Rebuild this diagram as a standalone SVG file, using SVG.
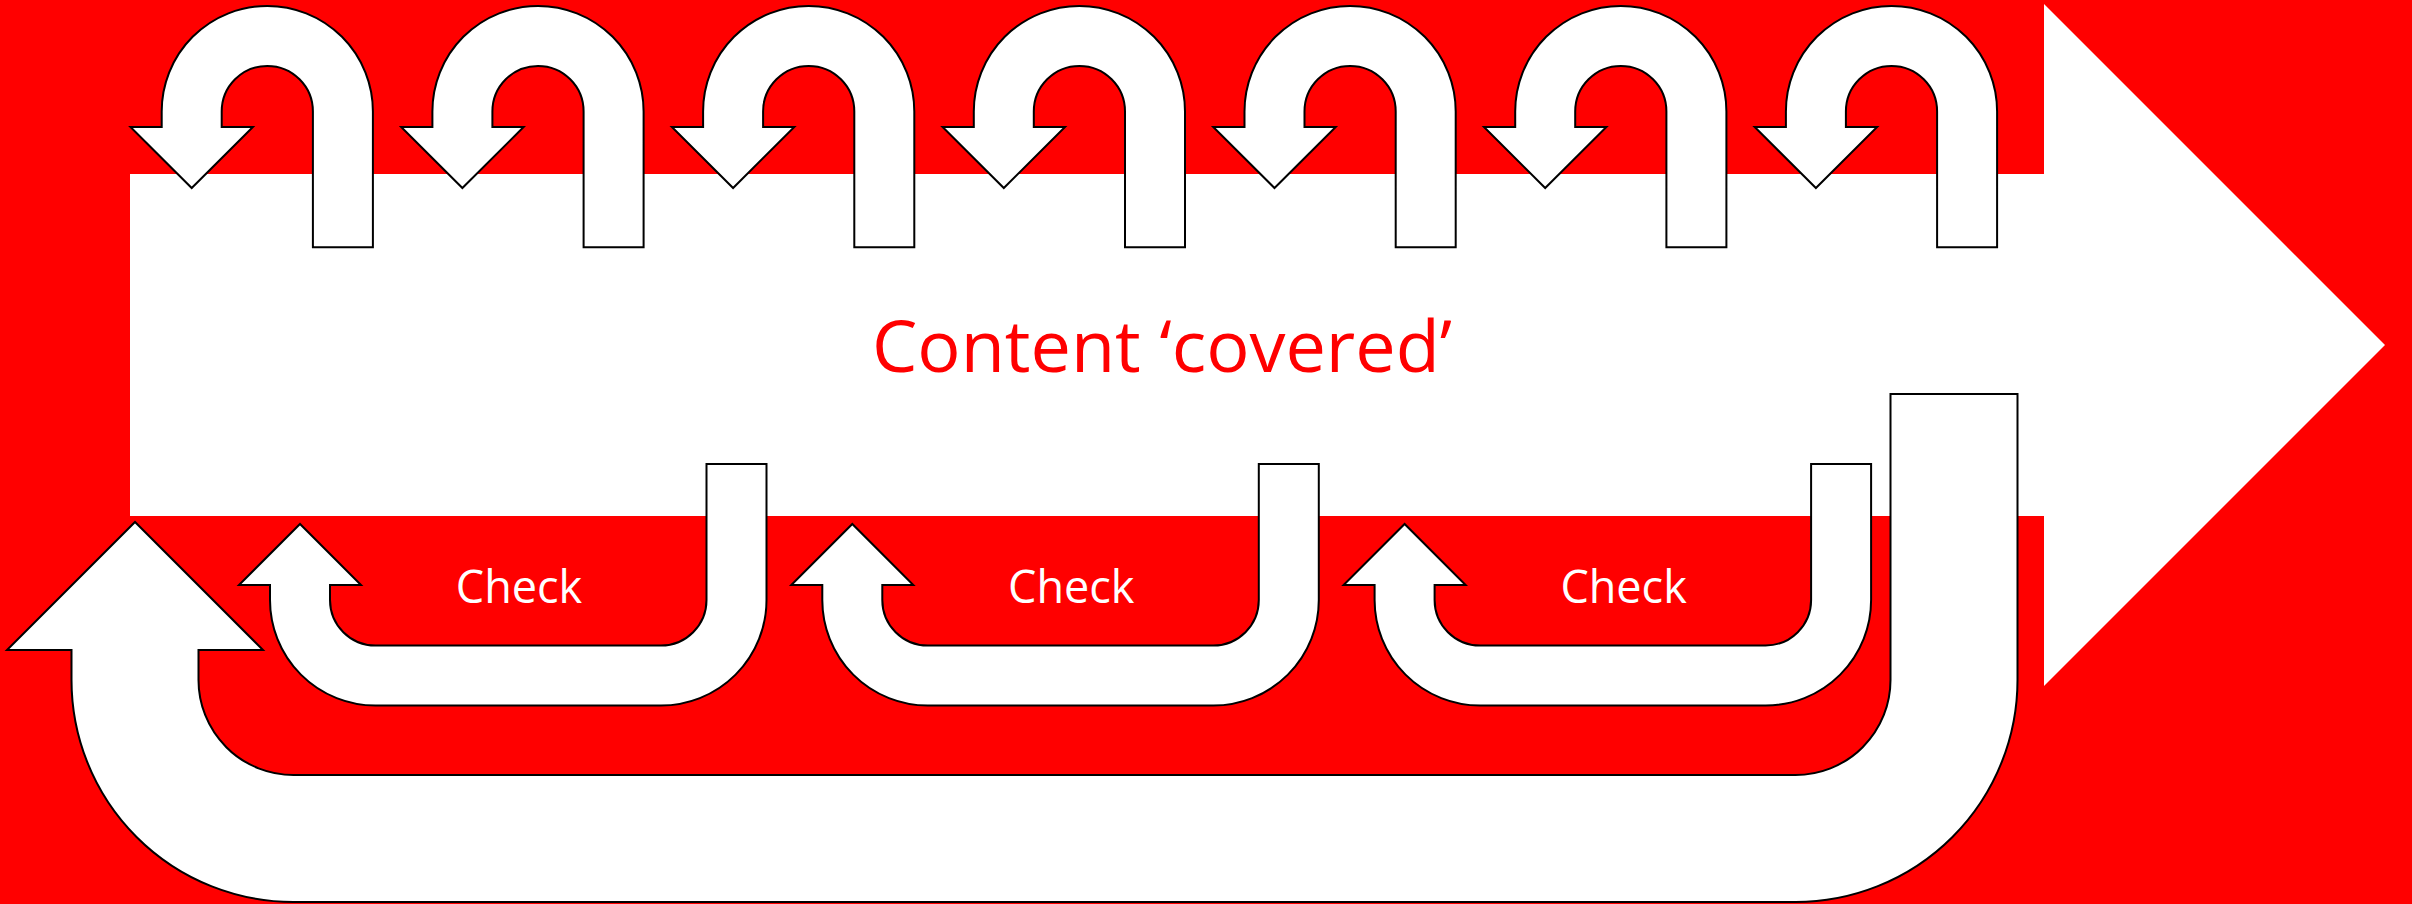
<svg xmlns="http://www.w3.org/2000/svg" width="2412" height="904" viewBox="0 0 2412 904">
<defs>
<style>
.arr{fill:#ffffff;stroke:#000000;stroke-width:2;stroke-linejoin:miter}
.main{font-family:"Open Sans","Noto Sans","DejaVu Sans",sans-serif;font-size:72px;fill:#ff0000}
.chk{font-family:"Open Sans","Noto Sans","DejaVu Sans",sans-serif;font-size:45px;fill:#ffffff;text-anchor:middle}
</style>
<path id="uturn" d="M105.6,135.8 V0 A105.6,105.6 0 0 0 -105.6,0 V15.5 H-136.8 L-75.6,76.5 L-14.4,15.5 H-45.6 V0 A45.6,45.6 0 0 1 45.6,0 V135.8 Z"/>
<path id="check" d="M766.5,464 V600 A105.5,105.5 0 0 1 661,705.5 H375.5 A105.5,105.5 0 0 1 270,600 V585 H239 L300,524 L361,585 H330 V600 A45.5,45.5 0 0 0 375.5,645.5 H661 A45.5,45.5 0 0 0 706.5,600 V464 Z"/>
</defs>
<rect x="0" y="0" width="2412" height="904" fill="#ff0000"/>
<g id="main-arrow">
<polygon points="130,174 2044,174 2044,4 2385,345 2044,686 2044,516 130,516" fill="#ffffff"/>
<text class="main" x="872" y="372">Content ‘covered’</text>
</g>
<g id="connectors">
<g id="top-loops">
<use href="#uturn" class="arr" transform="translate(267.3,111.5)"/>
<use href="#uturn" class="arr" transform="translate(538,111.5)"/>
<use href="#uturn" class="arr" transform="translate(808.7,111.5)"/>
<use href="#uturn" class="arr" transform="translate(1079.4,111.5)"/>
<use href="#uturn" class="arr" transform="translate(1350.1,111.5)"/>
<use href="#uturn" class="arr" transform="translate(1620.8,111.5)"/>
<use href="#uturn" class="arr" transform="translate(1891.5,111.5)"/>
</g>
<path id="return-loop" class="arr" d="M2017.5,394 V680 A222,222 0 0 1 1795.5,902 H293.5 A222,222 0 0 1 71.5,680 V650 H7 L135,522 L263,650 H198.5 V680 A95,95 0 0 0 293.5,775 H1795.5 A95,95 0 0 0 1890.5,680 V394 Z"/>
</g>
<g id="check1">
<use href="#check" class="arr"/>
<text class="chk" x="519" y="603">Check</text>
</g>
<g id="check2">
<use href="#check" class="arr" transform="translate(552.3,0)"/>
<text class="chk" x="1071.3" y="603">Check</text>
</g>
<g id="check3">
<use href="#check" class="arr" transform="translate(1104.6,0)"/>
<text class="chk" x="1623.6" y="603">Check</text>
</g>
</svg>
